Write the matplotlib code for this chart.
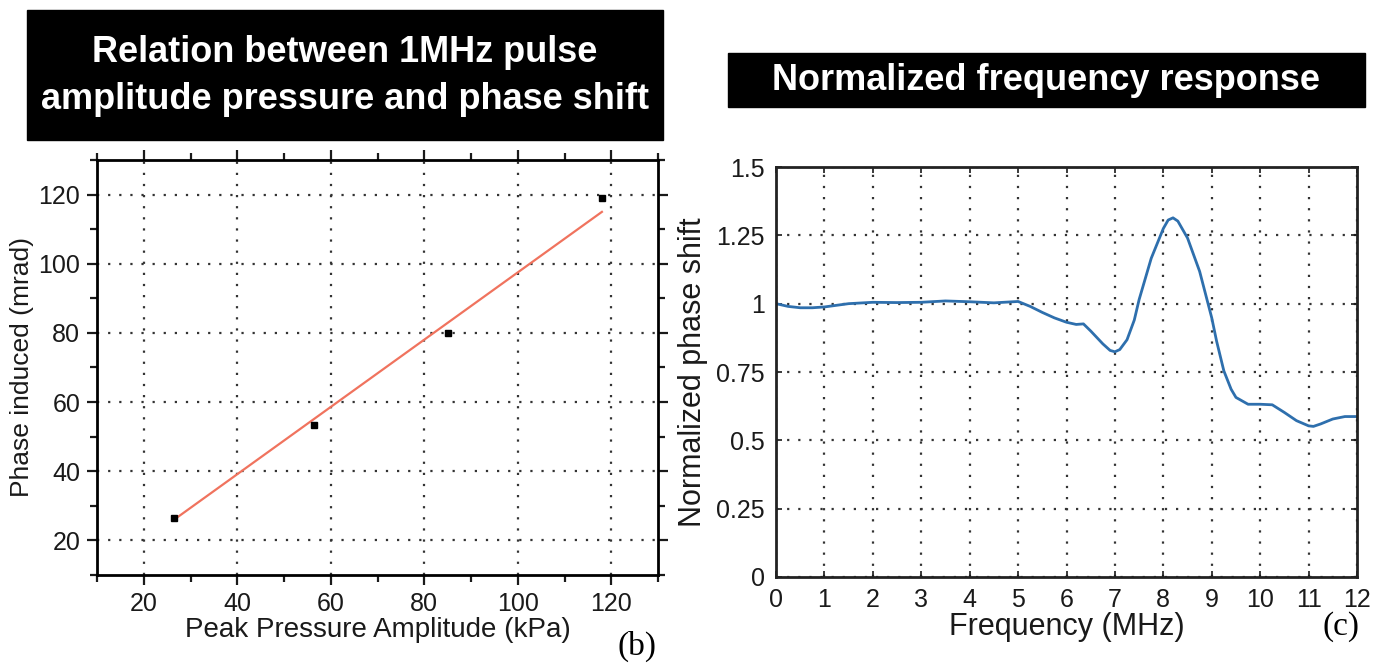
import matplotlib
matplotlib.use("Agg")
import matplotlib.pyplot as plt
from matplotlib.patches import Rectangle

plt.rcParams['font.family'] = ['Liberation Sans', 'DejaVu Sans']

# panel (b): measured points and linear fit
pressure_kpa = [26.5, 56.5, 85.0, 118.0]
phase_mrad = [26.5, 53.5, 80.0, 119.0]
fit_x = [27.0, 118.0]
fit_y = [26.5, 115.0]

# panel (c): normalized frequency response
freq_mhz = [0, 0.25, 0.5, 0.75, 1, 1.5, 2, 2.5, 3, 3.5, 4, 4.5, 5,
            5.25, 5.5, 5.75, 6, 6.2, 6.35, 6.5, 6.75, 6.9, 7, 7.1, 7.25, 7.4,
            7.5, 7.75, 8, 8.1, 8.2, 8.3, 8.5, 8.75, 9, 9.1, 9.25, 9.4, 9.5,
            9.75, 10, 10.25, 10.5, 10.75, 11, 11.1, 11.25, 11.5, 11.75, 12]
norm_phase = [1.0, 0.99, 0.985, 0.985, 0.988, 1.0, 1.005, 1.004, 1.005, 1.01,
              1.007, 1.003, 1.008,
              0.99, 0.968, 0.948, 0.932, 0.924, 0.926, 0.90, 0.853, 0.829,
              0.824, 0.832, 0.868, 0.94,
              1.015, 1.166, 1.275, 1.306, 1.314, 1.302, 1.24, 1.118, 0.948,
              0.863, 0.754, 0.687, 0.657,
              0.632, 0.632, 0.630, 0.602, 0.572, 0.553, 0.551, 0.56, 0.578,
              0.587, 0.587]

W, H = 1394, 667
fig = plt.figure(figsize=(W / 100, H / 100), dpi=100)


def px_axes(x0, y0, x1, y1):
    return fig.add_axes([x0 / W, 1 - y1 / H, (x1 - x0) / W, (y1 - y0) / H])


grid_kw = dict(color="#333333", linestyle=(0, (1, 4)), linewidth=1.6)
txt = "#1a1a1a"

# ---- left panel
ax = px_axes(97, 160, 658, 575)
ax.plot(fit_x, fit_y, color="#f0735e", linewidth=1.6, zorder=3)
ax.plot(pressure_kpa, phase_mrad, "s", color="black", markersize=5, zorder=4)
ax.set_xlim(10, 130)
ax.set_ylim(10, 130)
ax.set_xticks([20, 40, 60, 80, 100, 120])
ax.set_yticks([20, 40, 60, 80, 100, 120])
ax.set_xticks(range(10, 131, 10), minor=True)
ax.set_yticks(range(10, 131, 10), minor=True)
ax.grid(True, which="major", **grid_kw)
ax.tick_params(which="both", direction="out", top=True, right=True,
               width=1.6, labelsize=18, colors=txt, pad=5)
ax.tick_params(which="major", length=7)
ax.tick_params(which="minor", length=5)
for s in ax.spines.values():
    s.set_linewidth(2)
ax.set_xlabel("Peak Pressure Amplitude (kPa)", fontsize=20, color=txt, labelpad=1)
ax.set_ylabel("Phase induced (mrad)", fontsize=19, color=txt, labelpad=3)

# ---- right panel
ax2 = px_axes(776, 167, 1357, 577)
ax2.plot(freq_mhz, norm_phase, color="#2e6fad", linewidth=2)
ax2.set_xlim(0, 12)
ax2.set_ylim(0, 1.5)
ax2.set_xticks(range(0, 13))
ax2.set_yticks([0, 0.25, 0.5, 0.75, 1, 1.25, 1.5])
ax2.set_yticklabels(["0", "0.25", "0.5", "0.75", "1", "1.25", "1.5"])
ax2.grid(True, **grid_kw)
ax2.tick_params(direction="in", top=True, right=True, length=4, width=1.2,
                labelsize=18, colors=txt, pad=8)
for s in ax2.spines.values():
    s.set_linewidth(2)
    s.set_color("#222222")
ax2.set_xlabel("Frequency (MHz)", fontsize=22, color=txt, labelpad=0)
ax2.set_ylabel("Normalized phase shift", fontsize=22, color=txt, labelpad=6)

# panel letters
fig.text(637 / W, 1 - 646 / H, "(b)", family="Liberation Serif", fontsize=24,
         ha="center", va="center")
fig.text(1341 / W, 1 - 627 / H, "(c)", family="Liberation Serif", fontsize=24,
         ha="center", va="center")

# black title boxes
fig.patches.append(Rectangle((27 / W, 1 - 140 / H), (663 - 27) / W, 130 / H,
                             transform=fig.transFigure, color="black", zorder=0))
fig.patches.append(Rectangle((728 / W, 1 - 107 / H), (1365 - 728) / W, 54 / H,
                             transform=fig.transFigure, color="black", zorder=0))
fig.text(345 / W, 1 - 76 / H,
         "Relation between 1MHz pulse\namplitude pressure and phase shift",
         color="white", fontsize=26, fontweight="bold", ha="center", va="center",
         linespacing=1.45)
fig.text(1046 / W, 1 - 81 / H, "Normalized frequency response",
         color="white", fontsize=26, fontweight="bold", ha="center", va="center")

fig.savefig("out.png", dpi=100)
